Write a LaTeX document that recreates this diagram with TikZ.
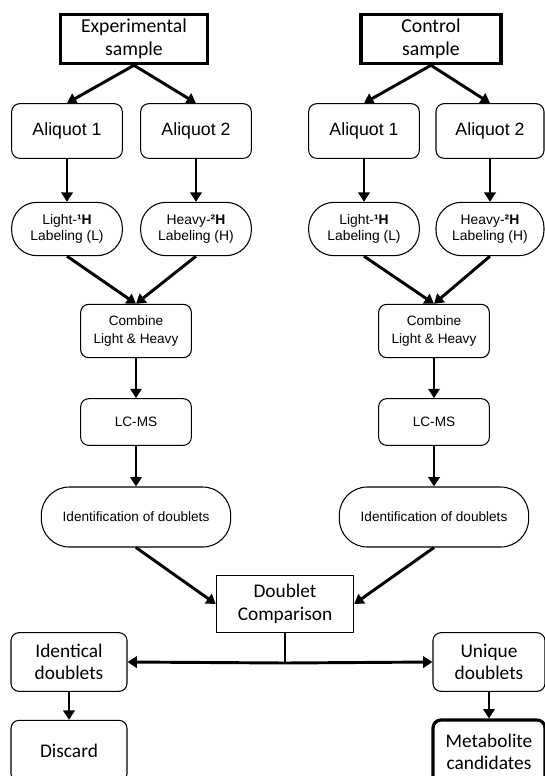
\documentclass[tikz,border=0pt]{standalone}
\usepackage{fontspec}
\setmainfont{Carlito}
\newfontfamily\arialfont{Liberation Sans}
\usetikzlibrary{arrows.meta}

\begin{document}
\begin{tikzpicture}[x=0.75pt, y=-0.75pt,
  box/.style={draw, rounded corners=6pt, line width=0.8pt, align=center, inner sep=0pt},
  samplebox/.style={draw, line width=2.4pt, align=center, inner sep=0pt, minimum width=110pt, minimum height=37pt, font=\fontsize{14.8}{17}\selectfont},
  aliquot/.style={box, minimum width=83pt, minimum height=41pt, font=\arialfont\fontsize{13.3}{15}\selectfont},
  tagbox/.style={box, rounded corners=19pt, minimum width=83pt, minimum height=40pt, font=\arialfont\fontsize{10.4}{12}\selectfont},
  step box/.style={box, minimum width=83pt, font=\arialfont\fontsize{10.2}{13.5}\selectfont},
  idbox/.style={box, rounded corners=21pt, minimum width=142pt, minimum height=45pt, font=\arialfont\fontsize{10.2}{12}\selectfont},
  endbox/.style={box, minimum width=87pt, minimum height=44pt, font=\fontsize{14.5}{17}\selectfont},
  flow/.style={-{Triangle[length=7pt,width=8.5pt]}, line width=2.2pt}]
  \useasboundingbox (0,0) rectangle (545,776);

  % -=-=-=-=- EXPERIMENTAL BRANCH -=-=-=-=-
  \node[samplebox] (exp) at (134,39) {Experimental\\sample};
  \node[aliquot] (e1) at (67,131) {Aliquot 1};
  \node[aliquot] (e2) at (196,131) {Aliquot 2};
  \node[tagbox] (eL) at (67,229) {Light-\textbf{¹H}\\Labeling (L)};
  \node[tagbox] (eH) at (196,229) {Heavy-\textbf{²H}\\Labeling (H)};
  \node[step box, minimum height=40pt] (eComb) at (136,331) {Combine\\Light \& Heavy};
  \node[step box, minimum height=35pt] (eLC) at (136,422) {LC-MS};
  \node[idbox] (eId) at (136,517) {Identification of doublets};

  % -=-=-=-=- CONTROL BRANCH -=-=-=-=-
  \node[samplebox, minimum width=105pt] (ctl) at (431,39) {Control\\sample};
  \node[aliquot] (c1) at (364,131) {Aliquot 1};
  \node[aliquot, minimum width=81pt] (c2) at (490,131) {Aliquot 2};
  \node[tagbox] (cL) at (364,229) {Light-\textbf{¹H}\\Labeling (L)};
  \node[tagbox, minimum width=81pt] (cH) at (490,229) {Heavy-\textbf{²H}\\Labeling (H)};
  \node[step box, minimum height=40pt] (cComb) at (434,331) {Combine\\Light \& Heavy};
  \node[step box, minimum height=35pt] (cLC) at (434,422) {LC-MS};
  \node[idbox] (cId) at (434,517) {Identification of doublets};

  % -=-=-=-=- COMPARISON -=-=-=-=-
  \node[draw, line width=0.8pt, align=center, inner sep=0pt, minimum width=103pt, minimum height=43pt, font=\fontsize{14.5}{17}\selectfont] (comp) at (285,604) {Doublet\\Comparison};
  \node[endbox] (ident) at (69,662) {Identical\\doublets};
  \node[endbox, minimum width=84pt] (uniq) at (489,662) {Unique\\doublets};
  \node[endbox, minimum height=46pt] (disc) at (69,751) {Discard};
  \node[endbox, line width=2.4pt, minimum width=84pt, minimum height=48pt] (meta) at (489,752) {Metabolite\\candidates};
  \coordinate (split) at (285,663);

  % -=-=-=-=- ARROWS -=-=-=-=-
  \draw[flow] (exp.south) -- (e1.north);
  \draw[flow] (exp.south) -- (e2.north);
  \draw[flow] (ctl.south) -- (c1.north);
  \draw[flow] (ctl.south) -- (c2.north);
  \draw[flow] (e1) -- (eL);
  \draw[flow] (e2) -- (eH);
  \draw[flow] (c1) -- (cL);
  \draw[flow] (c2) -- (cH);
  \draw[flow] (eL.south) -- (eComb.north);
  \draw[flow] (eH.south) -- (eComb.north);
  \draw[flow] (cL.south) -- (cComb.north);
  \draw[flow] (cH.south) -- (cComb.north);
  \draw[flow] (eComb) -- (eLC);
  \draw[flow] (cComb) -- (cLC);
  \draw[flow] (eLC) -- (eId);
  \draw[flow] (cLC) -- (cId);
  \draw[flow] (eId.south) -- (comp.west);
  \draw[flow] (cId.south) -- (comp.east);
  \draw[line width=2.2pt] (comp.south) -- (split);
  \draw[flow] (split) -- (ident.east);
  \draw[flow] (split) -- (uniq.west);
  \draw[flow] (ident) -- (disc);
  \draw[flow] (uniq) -- (meta);
\end{tikzpicture}
\end{document}
